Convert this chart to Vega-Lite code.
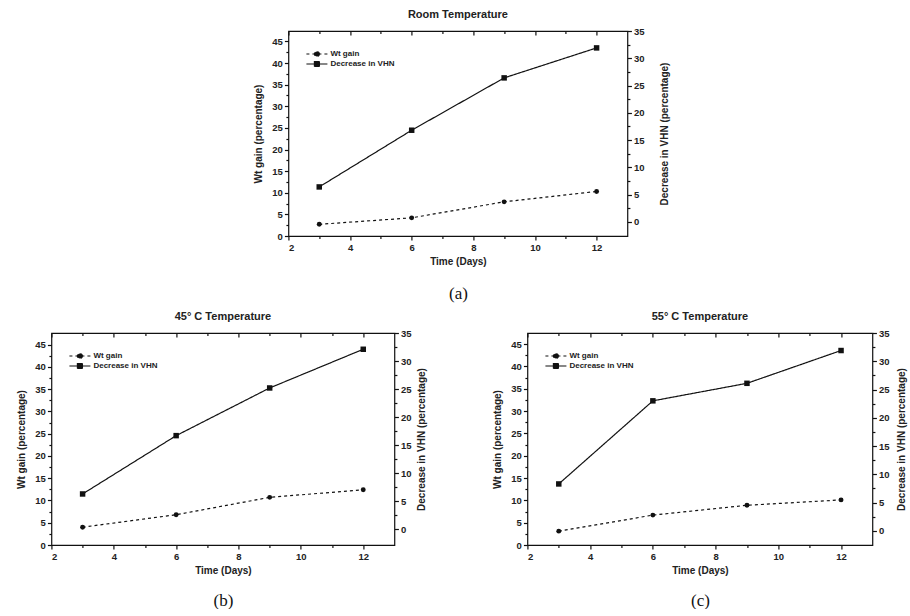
{
  "$schema": "https://vega.github.io/schema/vega-lite/v6.json",
  "padding": {"left": 16, "top": 8, "right": 0, "bottom": 0},
  "datasets": {
    "rows": [
      {"panel": "a", "series": "Wt gain", "day": 3, "value": 2.7},
      {"panel": "a", "series": "Wt gain", "day": 6, "value": 4.2},
      {"panel": "a", "series": "Wt gain", "day": 9, "value": 7.9},
      {"panel": "a", "series": "Wt gain", "day": 12, "value": 10.3},
      {"panel": "a", "series": "Decrease in VHN", "day": 3, "value": 6.4},
      {"panel": "a", "series": "Decrease in VHN", "day": 6, "value": 16.8},
      {"panel": "a", "series": "Decrease in VHN", "day": 9, "value": 26.4},
      {"panel": "a", "series": "Decrease in VHN", "day": 12, "value": 31.9},
      {"panel": "b", "series": "Wt gain", "day": 3, "value": 4.0},
      {"panel": "b", "series": "Wt gain", "day": 6, "value": 6.8},
      {"panel": "b", "series": "Wt gain", "day": 9, "value": 10.7},
      {"panel": "b", "series": "Wt gain", "day": 12, "value": 12.4},
      {"panel": "b", "series": "Decrease in VHN", "day": 3, "value": 6.3},
      {"panel": "b", "series": "Decrease in VHN", "day": 6, "value": 16.7},
      {"panel": "b", "series": "Decrease in VHN", "day": 9, "value": 25.2},
      {"panel": "b", "series": "Decrease in VHN", "day": 12, "value": 32.1},
      {"panel": "c", "series": "Wt gain", "day": 3, "value": 3.1},
      {"panel": "c", "series": "Wt gain", "day": 6, "value": 6.7},
      {"panel": "c", "series": "Wt gain", "day": 9, "value": 8.9},
      {"panel": "c", "series": "Wt gain", "day": 12, "value": 10.1},
      {"panel": "c", "series": "Decrease in VHN", "day": 3, "value": 8.3},
      {"panel": "c", "series": "Decrease in VHN", "day": 6, "value": 23.0},
      {"panel": "c", "series": "Decrease in VHN", "day": 9, "value": 26.1},
      {"panel": "c", "series": "Decrease in VHN", "day": 12, "value": 31.9}
    ]
  },
  "spacing": 8,
  "center": true,
  "resolve": {"scale": {"strokeDash": "independent"}, "legend": {"strokeDash": "independent"}},
  "vconcat": [
    {
      "title": {"text": "Room Temperature", "offset": 6},
      "width": 339, "height": 205,
      "data": {"name": "rows"},
      "transform": [{"filter": "datum.panel == 'a'"}],
      "resolve": {"scale": {"x": "independent", "y": "independent"}, "axis": {"x": "independent", "y": "independent"}},
      "layer": [
        {
          "transform": [{"filter": "datum.series == 'Wt gain'"}],
          "mark": {"type": "line", "color": "#111", "strokeWidth": 1.2, "point": {"filled": true, "size": 24, "color": "#111"}},
          "encoding": {
            "x": {"field": "day", "type": "quantitative", "scale": {"domain": [2, 13]}, "axis": {"values": [2, 4, 6, 8, 10, 12], "title": "Time (Days)", "tickSize": 4, "titlePadding": 5}},
            "y": {"field": "value", "type": "quantitative", "scale": {"domain": [0, 47.4]}, "axis": {"values": [0, 5, 10, 15, 20, 25, 30, 35, 40, 45], "title": "Wt gain (percentage)", "tickSize": 4, "titlePadding": 8}},
            "strokeDash": {"field": "series", "type": "nominal", "scale": {"domain": ["Wt gain", "Decrease in VHN"], "range": [[3, 3], [1, 0]]},
              "legend": {"orient": "top-left", "title": null, "offset": 18, "labelFontSize": 8, "labelFontWeight": "bold", "labelColor": "#222", "symbolSize": 64, "symbolStrokeWidth": 1.2, "symbolStrokeColor": "#111", "rowPadding": -2, "labelOffset": 14,
                "encode": {"symbols": {"update": {"shape": {"signal": "datum.value == 'Wt gain' ? 'M-1.25,0L4,0M2,0A0.625,0.625,0,1,1,0.75,0A0.625,0.625,0,1,1,2,0Z' : 'M-1.25,0L4,0M0.75,-0.625L2,-0.625L2,0.625L0.75,0.625Z'"}, "fill": {"value": "#111"}, "stroke": {"value": "#111"}, "strokeWidth": {"value": 1.2}}}}}}
          }
        },
        {
          "transform": [{"filter": "datum.series == 'Decrease in VHN'"}],
          "mark": {"type": "line", "color": "#111", "strokeWidth": 1.2, "point": {"filled": true, "shape": "square", "size": 30, "color": "#111"}},
          "encoding": {
            "x": {"field": "day", "type": "quantitative", "scale": {"domain": [2, 13]}, "axis": {"orient": "top", "values": [2, 4, 6, 8, 10, 12], "labels": false, "title": null, "tickSize": -4}},
            "y": {"field": "value", "type": "quantitative", "scale": {"domain": [-2.6, 35]}, "axis": {"orient": "right", "values": [0, 5, 10, 15, 20, 25, 30, 35], "title": "Decrease in VHN (percentage)", "titleAngle": 270, "titleBaseline": "top", "tickSize": 4, "titlePadding": 16}},
            "strokeDash": {"field": "series", "type": "nominal"}
          }
        },
        {
          "mark": {"type": "point", "opacity": 0},
          "encoding": {
            "x": {"field": "day", "type": "quantitative", "scale": {"domain": [2, 13]}, "axis": {"values": [3, 5, 7, 9, 11], "labels": false, "tickSize": 2.5, "title": "(a)", "titleFont": "Liberation Serif", "titleFontSize": 17, "titleFontWeight": "normal", "titleColor": "#111", "titlePadding": 46}},
            "y": {"field": "value", "type": "quantitative", "scale": {"domain": [0, 47.4]}, "axis": {"values": [2.5, 7.5, 12.5, 17.5, 22.5, 27.5, 32.5, 37.5, 42.5], "labels": false, "tickSize": 2.5, "title": null}}
          }
        },
        {
          "mark": {"type": "point", "opacity": 0},
          "encoding": {
            "x": {"field": "day", "type": "quantitative", "scale": {"domain": [2, 13]}, "axis": {"orient": "top", "values": [3, 5, 7, 9, 11], "labels": false, "tickSize": -2.5, "title": null}},
            "y": {"field": "value", "type": "quantitative", "scale": {"domain": [-2.6, 35]}, "axis": {"orient": "right", "values": [2.5, 7.5, 12.5, 17.5, 22.5, 27.5, 32.5], "labels": false, "tickSize": 2.5, "title": null}}
          }
        }
      ]
    },
    {
      "hconcat": [
        {
          "title": {"text": "45° C Temperature", "offset": 6},
          "width": 343, "height": 212,
          "data": {"name": "rows"},
          "transform": [{"filter": "datum.panel == 'b'"}],
          "resolve": {"scale": {"x": "independent", "y": "independent"}, "axis": {"x": "independent", "y": "independent"}},
          "layer": [
            {
              "transform": [{"filter": "datum.series == 'Wt gain'"}],
              "mark": {"type": "line", "color": "#111", "strokeWidth": 1.2, "point": {"filled": true, "size": 24, "color": "#111"}},
              "encoding": {
                "x": {"field": "day", "type": "quantitative", "scale": {"domain": [2, 13]}, "axis": {"values": [2, 4, 6, 8, 10, 12], "title": "Time (Days)", "tickSize": 4, "titlePadding": 5}},
                "y": {"field": "value", "type": "quantitative", "scale": {"domain": [0, 47.6]}, "axis": {"values": [0, 5, 10, 15, 20, 25, 30, 35, 40, 45], "title": "Wt gain (percentage)", "tickSize": 4, "titlePadding": 8}},
                "strokeDash": {"field": "series", "type": "nominal", "scale": {"domain": ["Wt gain", "Decrease in VHN"], "range": [[3, 3], [1, 0]]},
                  "legend": {"orient": "top-left", "title": null, "offset": 18, "labelFontSize": 8, "labelFontWeight": "bold", "labelColor": "#222", "symbolSize": 64, "symbolStrokeWidth": 1.2, "symbolStrokeColor": "#111", "rowPadding": -2, "labelOffset": 14,
                    "encode": {"symbols": {"update": {"shape": {"signal": "datum.value == 'Wt gain' ? 'M-1.25,0L4,0M2,0A0.625,0.625,0,1,1,0.75,0A0.625,0.625,0,1,1,2,0Z' : 'M-1.25,0L4,0M0.75,-0.625L2,-0.625L2,0.625L0.75,0.625Z'"}, "fill": {"value": "#111"}, "stroke": {"value": "#111"}, "strokeWidth": {"value": 1.2}}}}}}
              }
            },
            {
              "transform": [{"filter": "datum.series == 'Decrease in VHN'"}],
              "mark": {"type": "line", "color": "#111", "strokeWidth": 1.2, "point": {"filled": true, "shape": "square", "size": 30, "color": "#111"}},
              "encoding": {
                "x": {"field": "day", "type": "quantitative", "scale": {"domain": [2, 13]}, "axis": {"orient": "top", "values": [2, 4, 6, 8, 10, 12], "labels": false, "title": null, "tickSize": -4}},
                "y": {"field": "value", "type": "quantitative", "scale": {"domain": [-2.8, 35]}, "axis": {"orient": "right", "values": [0, 5, 10, 15, 20, 25, 30, 35], "title": "Decrease in VHN (percentage)", "titleAngle": 270, "titleBaseline": "top", "tickSize": 4, "titlePadding": 6}},
                "strokeDash": {"field": "series", "type": "nominal"}
              }
            },
            {
              "mark": {"type": "point", "opacity": 0},
              "encoding": {
                "x": {"field": "day", "type": "quantitative", "scale": {"domain": [2, 13]}, "axis": {"values": [3, 5, 7, 9, 11], "labels": false, "tickSize": 2.5, "title": "(b)", "titleFont": "Liberation Serif", "titleFontSize": 17, "titleFontWeight": "normal", "titleColor": "#111", "titlePadding": 44}},
                "y": {"field": "value", "type": "quantitative", "scale": {"domain": [0, 47.6]}, "axis": {"values": [2.5, 7.5, 12.5, 17.5, 22.5, 27.5, 32.5, 37.5, 42.5], "labels": false, "tickSize": 2.5, "title": null}}
              }
            },
            {
              "mark": {"type": "point", "opacity": 0},
              "encoding": {
                "x": {"field": "day", "type": "quantitative", "scale": {"domain": [2, 13]}, "axis": {"orient": "top", "values": [3, 5, 7, 9, 11], "labels": false, "tickSize": -2.5, "title": null}},
                "y": {"field": "value", "type": "quantitative", "scale": {"domain": [-2.8, 35]}, "axis": {"orient": "right", "values": [2.5, 7.5, 12.5, 17.5, 22.5, 27.5, 32.5], "labels": false, "tickSize": 2.5, "title": null}}
              }
            }
          ]
        },
        {
          "title": {"text": "55° C Temperature", "offset": 6},
          "width": 345, "height": 212,
          "data": {"name": "rows"},
          "transform": [{"filter": "datum.panel == 'c'"}],
          "resolve": {"scale": {"x": "independent", "y": "independent"}, "axis": {"x": "independent", "y": "independent"}},
          "layer": [
            {
              "transform": [{"filter": "datum.series == 'Wt gain'"}],
              "mark": {"type": "line", "color": "#111", "strokeWidth": 1.2, "point": {"filled": true, "size": 24, "color": "#111"}},
              "encoding": {
                "x": {"field": "day", "type": "quantitative", "scale": {"domain": [2, 13]}, "axis": {"values": [2, 4, 6, 8, 10, 12], "title": "Time (Days)", "tickSize": 4, "titlePadding": 5}},
                "y": {"field": "value", "type": "quantitative", "scale": {"domain": [0, 47.5]}, "axis": {"values": [0, 5, 10, 15, 20, 25, 30, 35, 40, 45], "title": "Wt gain (percentage)", "tickSize": 4, "titlePadding": 8}},
                "strokeDash": {"field": "series", "type": "nominal", "scale": {"domain": ["Wt gain", "Decrease in VHN"], "range": [[3, 3], [1, 0]]},
                  "legend": {"orient": "top-left", "title": null, "offset": 18, "labelFontSize": 8, "labelFontWeight": "bold", "labelColor": "#222", "symbolSize": 64, "symbolStrokeWidth": 1.2, "symbolStrokeColor": "#111", "rowPadding": -2, "labelOffset": 14,
                    "encode": {"symbols": {"update": {"shape": {"signal": "datum.value == 'Wt gain' ? 'M-1.25,0L4,0M2,0A0.625,0.625,0,1,1,0.75,0A0.625,0.625,0,1,1,2,0Z' : 'M-1.25,0L4,0M0.75,-0.625L2,-0.625L2,0.625L0.75,0.625Z'"}, "fill": {"value": "#111"}, "stroke": {"value": "#111"}, "strokeWidth": {"value": 1.2}}}}}}
              }
            },
            {
              "transform": [{"filter": "datum.series == 'Decrease in VHN'"}],
              "mark": {"type": "line", "color": "#111", "strokeWidth": 1.2, "point": {"filled": true, "shape": "square", "size": 30, "color": "#111"}},
              "encoding": {
                "x": {"field": "day", "type": "quantitative", "scale": {"domain": [2, 13]}, "axis": {"orient": "top", "values": [2, 4, 6, 8, 10, 12], "labels": false, "title": null, "tickSize": -4}},
                "y": {"field": "value", "type": "quantitative", "scale": {"domain": [-2.5, 35]}, "axis": {"orient": "right", "values": [0, 5, 10, 15, 20, 25, 30, 35], "title": "Decrease in VHN (percentage)", "titleAngle": 270, "titleBaseline": "top", "tickSize": 4, "titlePadding": 8}},
                "strokeDash": {"field": "series", "type": "nominal"}
              }
            },
            {
              "mark": {"type": "point", "opacity": 0},
              "encoding": {
                "x": {"field": "day", "type": "quantitative", "scale": {"domain": [2, 13]}, "axis": {"values": [3, 5, 7, 9, 11], "labels": false, "tickSize": 2.5, "title": "(c)", "titleFont": "Liberation Serif", "titleFontSize": 17, "titleFontWeight": "normal", "titleColor": "#111", "titlePadding": 44}},
                "y": {"field": "value", "type": "quantitative", "scale": {"domain": [0, 47.5]}, "axis": {"values": [2.5, 7.5, 12.5, 17.5, 22.5, 27.5, 32.5, 37.5, 42.5], "labels": false, "tickSize": 2.5, "title": null}}
              }
            },
            {
              "mark": {"type": "point", "opacity": 0},
              "encoding": {
                "x": {"field": "day", "type": "quantitative", "scale": {"domain": [2, 13]}, "axis": {"orient": "top", "values": [3, 5, 7, 9, 11], "labels": false, "tickSize": -2.5, "title": null}},
                "y": {"field": "value", "type": "quantitative", "scale": {"domain": [-2.5, 35]}, "axis": {"orient": "right", "values": [2.5, 7.5, 12.5, 17.5, 22.5, 27.5, 32.5], "labels": false, "tickSize": 2.5, "title": null}}
              }
            }
          ]
        }
      ],
      "spacing": 63,
      "resolve": {"scale": {"strokeDash": "independent"}, "legend": {"strokeDash": "independent"}}
    }
  ],
  "config": {
    "font": "Liberation Sans",
    "view": {"stroke": "#111", "strokeWidth": 1.2},
    "axis": {"domain": false, "grid": false, "ticks": true, "tickColor": "#111", "tickWidth": 1.2, "labelFont": "Liberation Sans", "labelFontSize": 9.5, "labelFontWeight": "bold", "labelColor": "#222", "labelPadding": 2, "titleFont": "Liberation Sans", "titleFontSize": 10, "titleFontWeight": "bold", "titleColor": "#222"},
    "title": {"font": "Liberation Sans", "fontSize": 11, "fontWeight": "bold", "color": "#222"}
  }
}
